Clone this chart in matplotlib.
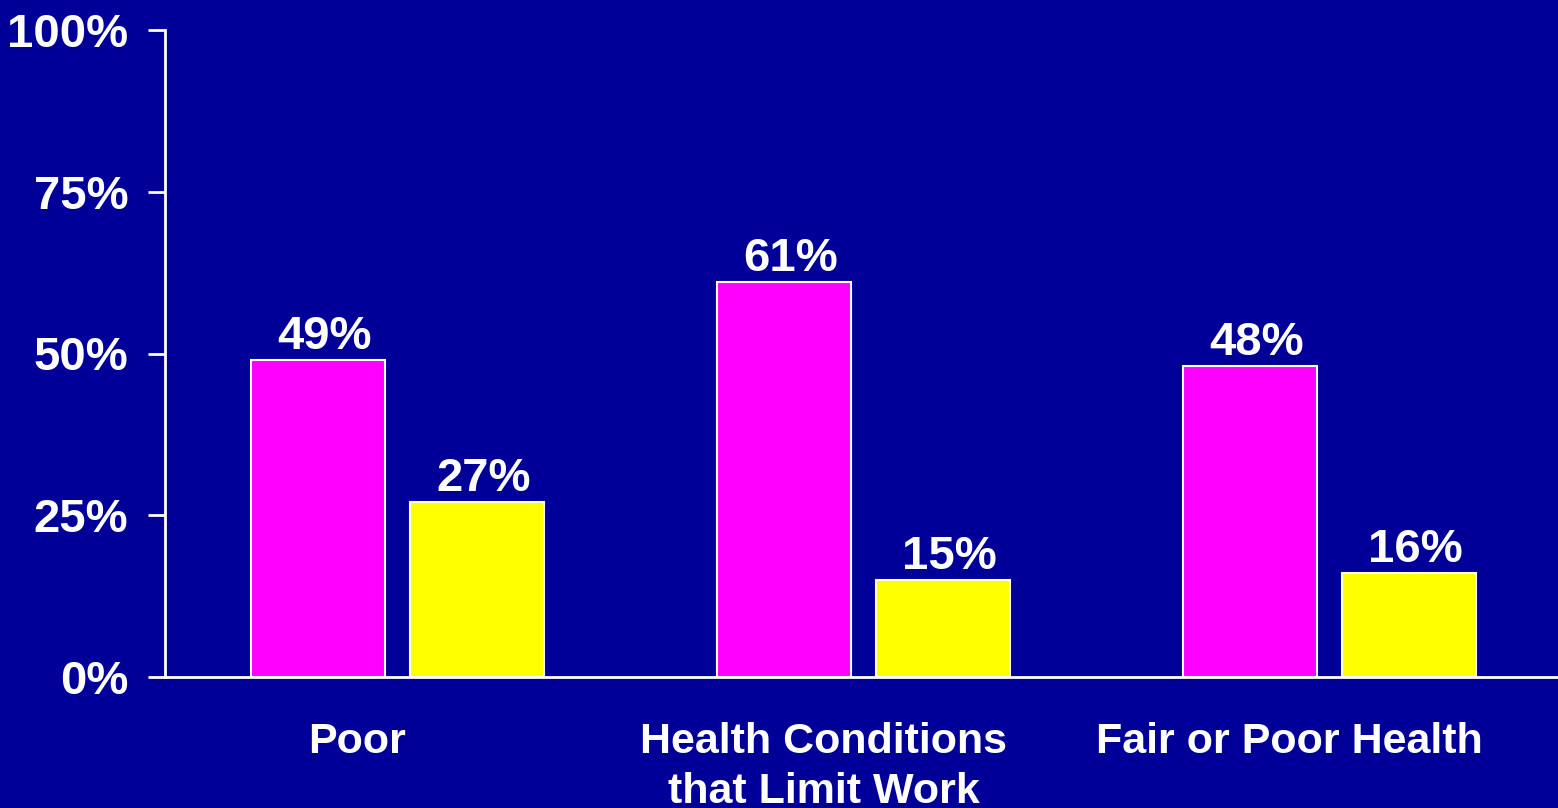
import matplotlib.pyplot as plt
import numpy as np

plt.rcParams['font.family'] = ['Liberation Sans', 'DejaVu Sans']

categories = ["Poor", "Health Conditions\nthat Limit Work", "Fair or Poor Health"]
magenta_vals = [49, 61, 48]
yellow_vals = [27, 15, 16]
yticks = [0, 25, 50, 75, 100]

bg = "#000099"
fig = plt.figure(figsize=(15.58, 8.08), dpi=100, facecolor=bg)
ax = fig.add_axes([0.1059, 0.1621, 0.8941, 0.8008], facecolor=bg)

x = np.arange(len(categories))
w = 0.2876
off = 0.1706

b1 = ax.bar(x - off, magenta_vals, w, color="#FF00FF", edgecolor="white", linewidth=1.5)
b2 = ax.bar(x + off, yellow_vals, w, color="#FFFF00", edgecolor="white", linewidth=1.5)

# value labels above the bars
for bars, vals in ((b1, magenta_vals), (b2, yellow_vals)):
    for b, v in zip(bars, vals):
        ax.text(b.get_x() + b.get_width() / 2 + 0.015, v + 0.2, f"{v}%",
                ha="center", va="bottom", color="white",
                fontsize=34, fontweight="bold")

ax.set_xlim(-0.498, 2.491)
ax.set_ylim(0, 100)
ax.set_yticks(yticks)
ax.set_yticklabels([f"{t}%" for t in yticks], color="white",
                   fontsize=34, fontweight="bold")
ax.tick_params(axis="y", colors="white", length=12.5, width=2, pad=14)

# category labels
ax.set_xticks([])
for xi, lab in zip(x, categories):
    ax.text(xi - 0.085, -6.9, lab, ha="center", va="top", color="white",
            fontsize=31, fontweight="bold", linespacing=1.32,
            transform=ax.transData, clip_on=False)

for side in ("top", "right"):
    ax.spines[side].set_visible(False)
for side in ("left", "bottom"):
    ax.spines[side].set_color("white")
    ax.spines[side].set_linewidth(2)

fig.savefig("out.png", dpi=100, facecolor=bg)
